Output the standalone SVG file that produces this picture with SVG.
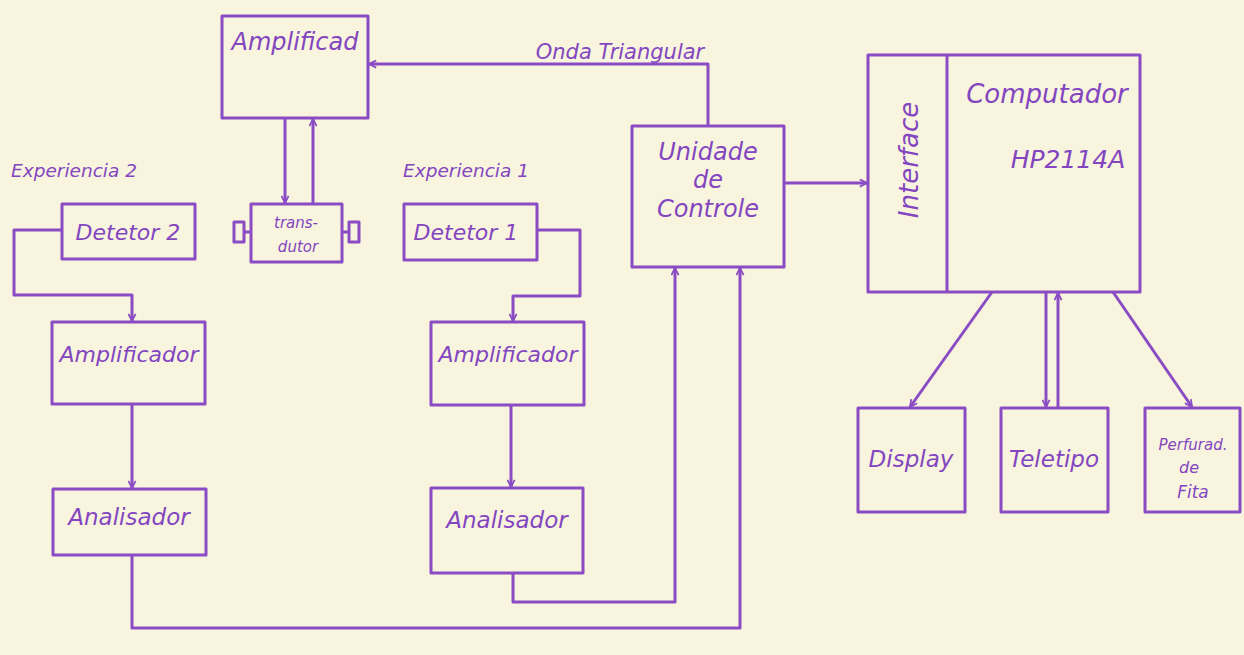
<svg xmlns="http://www.w3.org/2000/svg" width="1244" height="655" viewBox="0 0 1244 655">
<defs>
<marker id="arr" viewBox="0 0 10 10" refX="9" refY="5" markerWidth="9" markerHeight="9" orient="auto" markerUnits="userSpaceOnUse">
<path d="M1,1 L9,5 L1,9" fill="none" stroke="#8a4cc4" stroke-width="2"/>
</marker>
<style>
.b{fill:none;stroke:#8a4cc4;stroke-width:3;stroke-linejoin:round}
.c{fill:none;stroke:#8a4cc4;stroke-width:3;stroke-linejoin:round}
.t{font-family:"DejaVu Sans",sans-serif;font-style:italic;fill:#8346c0;text-anchor:middle}
</style>
</defs>
<rect width="1244" height="655" fill="#f9f4de"/>
<g id="amplificad"><rect class="b" x="222" y="16" width="146" height="102"/><text class="t" x="295" y="50" font-size="24">Amplificad</text></g>
<g id="transdutor"><rect class="b" x="251" y="204" width="91" height="58"/>
<path class="b" d="M251,232 H244 M234,222 v20 h10 v-20 z M342,232 H349 M349,222 v20 h10 v-20 z" stroke-width="2.5"/>
<text class="t" x="296" y="228" font-size="15">trans-</text><text class="t" x="298" y="252" font-size="15">dutor</text></g>
<g id="exp2"><text class="t" x="74" y="177" font-size="18.5">Experiencia 2</text></g>
<g id="exp1"><text class="t" x="466" y="177" font-size="18.5">Experiencia 1</text></g>
<g id="detetor2"><rect class="b" x="62" y="204" width="133" height="55"/><text class="t" x="128" y="240" font-size="22">Detetor 2</text></g>
<g id="detetor1"><rect class="b" x="404" y="204" width="133" height="56"/><text class="t" x="466" y="240" font-size="22">Detetor 1</text></g>
<g id="amp2"><rect class="b" x="52" y="322" width="153" height="82"/><text class="t" x="129" y="362" font-size="22">Amplificador</text></g>
<g id="anal2"><rect class="b" x="53" y="489" width="153" height="66"/><text class="t" x="129" y="525" font-size="23">Analisador</text></g>
<g id="amp1"><rect class="b" x="431" y="322" width="153" height="83"/><text class="t" x="508" y="362" font-size="22">Amplificador</text></g>
<g id="anal1"><rect class="b" x="431" y="488" width="152" height="85"/><text class="t" x="507" y="528" font-size="23">Analisador</text></g>
<g id="unidade"><rect class="b" x="632" y="126" width="152" height="141"/><text class="t" x="708" y="160" font-size="24">Unidade</text><text class="t" x="708" y="188" font-size="24">de</text><text class="t" x="708" y="217" font-size="24">Controle</text></g>
<g id="computador"><rect class="b" x="868" y="55" width="272" height="237"/><line class="b" x1="947" y1="55" x2="947" y2="292"/>
<text class="t" x="0" y="0" font-size="26" transform="translate(918,160) rotate(-90)">Interface</text>
<text class="t" x="1047" y="103" font-size="26">Computador</text><text class="t" x="1068" y="168" font-size="25">HP2114A</text></g>
<g id="display"><rect class="b" x="858" y="408" width="107" height="104"/><text class="t" x="911" y="467" font-size="23">Display</text></g>
<g id="teletipo"><rect class="b" x="1001" y="408" width="107" height="104"/><text class="t" x="1054" y="467" font-size="23">Teletipo</text></g>
<g id="perfurad"><rect class="b" x="1145" y="408" width="95" height="104"/><text class="t" x="1193" y="450" font-size="15">Perfurad.</text><text class="t" x="1189" y="473" font-size="16">de</text><text class="t" x="1193" y="498" font-size="17">Fita</text></g>
<g id="label-onda"><text class="t" x="620" y="59" font-size="21">Onda Triangular</text></g>
<g id="connectors">
<path class="c" d="M708,126 V64 H369" marker-end="url(#arr)"/>
<path class="c" d="M285,118 V203" marker-end="url(#arr)"/>
<path class="c" d="M313,204 V119" marker-end="url(#arr)"/>
<path class="c" d="M62,230 H14 V295 H132 V321" marker-end="url(#arr)"/>
<path class="c" d="M537,230 H580 V296 H513 V321" marker-end="url(#arr)"/>
<path class="c" d="M132,404 V488" marker-end="url(#arr)"/>
<path class="c" d="M511,405 V487" marker-end="url(#arr)"/>
<path class="c" d="M513,573 V602 H675 V268" marker-end="url(#arr)"/>
<path class="c" d="M132,555 V628 H740 V268" marker-end="url(#arr)"/>
<path class="c" d="M784,183 H867" marker-end="url(#arr)"/>
<path class="c" d="M992,292 L910,407" marker-end="url(#arr)"/>
<path class="c" d="M1046,292 V407" marker-end="url(#arr)"/>
<path class="c" d="M1058,408 V293" marker-end="url(#arr)"/>
<path class="c" d="M1113,292 L1192,407" marker-end="url(#arr)"/>
</g>
</svg>
